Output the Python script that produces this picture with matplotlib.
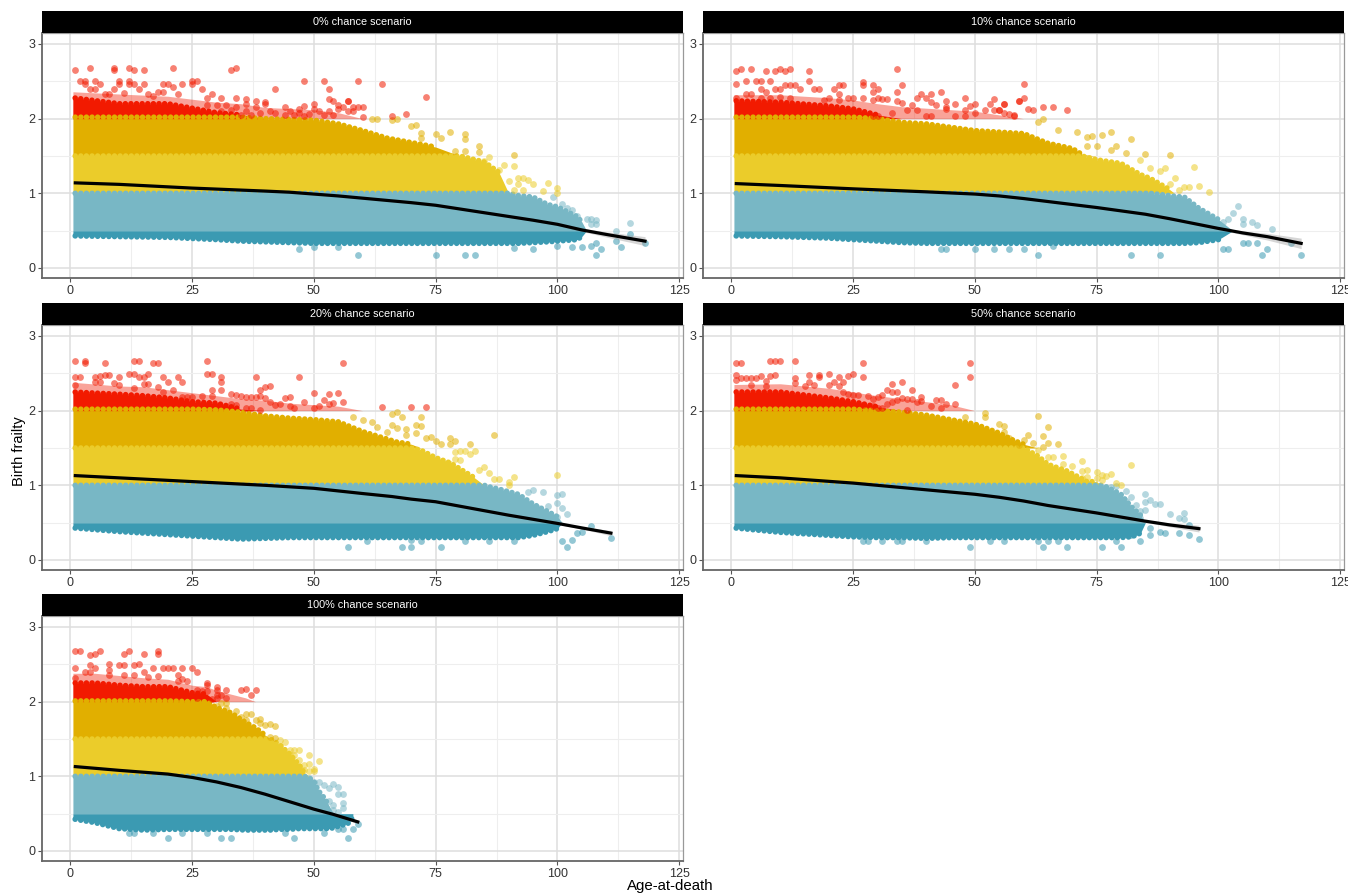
import numpy as np
import matplotlib
matplotlib.use("Agg")
import matplotlib.pyplot as plt
from matplotlib.patches import Rectangle

plt.rcParams["font.family"] = ["Liberation Sans", "DejaVu Sans"]

#COLOURS (frailty bands, low to high)
DARK = "#3B9AB2"
LIGHT = "#78B7C5"
YELLOW = "#EBCC2A"
GOLD = "#E1AF00"
RED = "#F21A00"

titles = ["0% chance scenario", "10% chance scenario", "20% chance scenario",
          "50% chance scenario", "100% chance scenario"]
x_ticks = [0, 25, 50, 75, 100, 125]
y_ticks = [0, 1, 2, 3]

#0% SCENARIO
ages_0 = [0.5, 10, 20, 30, 35, 40, 50, 55, 60, 65, 70, 75, 80, 85, 88, 90, 92, 95, 98, 100, 104, 105, 106]
red_soft_0 = [2.36, 2.33, 2.3, 2.22, 2.2, 2.15, 2.12, 2.08] + [2.0] * 15
red_top_0 = [2.28, 2.2, 2.2, 2.08, 2.05, 2.0, 2, 2, 2, 2, 2, 2, 2, 2, 2, 2, 2, 2, 2, 2, 2, 2, 2]
gold_top_0 = [2.02, 2.02, 2.02, 2.02, 2.02, 2.0, 1.98, 1.93, 1.84, 1.74, 1.68, 1.62, 1.5, 1.5, 1.5, 1.5, 1.5, 1.5, 1.5, 1.5, 1.5, 1.5, 1.5]
yellow_top_0 = [1.5, 1.5, 1.5, 1.5, 1.5, 1.5, 1.5, 1.5, 1.5, 1.5, 1.5, 1.5, 1.5, 1.42, 1.28, 1.0, 1, 1, 1, 1, 1, 1, 1]
light_top_0 = [1.0, 1, 1, 1, 1, 1, 1, 1, 1, 1, 1, 1, 1, 1, 1, 1.0, 0.97, 0.95, 0.85, 0.82, 0.69, 0.62, 0.5]
dark_low_0 = [0.43, 0.42, 0.41, 0.38, 0.36, 0.35, 0.33, 0.33, 0.33, 0.33, 0.33, 0.33, 0.33, 0.33, 0.33, 0.33, 0.33, 0.34, 0.35, 0.36, 0.38, 0.42, 0.5]
red_0 = [(1, 2.65), (4, 2.68), (9, 2.68), (9, 2.65), (12, 2.68), (13, 2.65), (15, 2.65), (21, 2.68), (33, 2.65), (34, 2.68),
         (2, 2.51), (3, 2.51), (5, 2.51), (6, 2.46), (3, 2.46), (4, 2.4), (5, 2.4), (9, 2.4), (10, 2.51), (10, 2.46),
         (12, 2.51), (12, 2.46), (13, 2.46), (14, 2.4), (15, 2.46), (19, 2.46), (20, 2.46), (21, 2.42), (23, 2.46), (25, 2.51),
         (25, 2.46), (26, 2.5), (27, 2.4), (42, 2.4), (48, 2.5), (52, 2.5), (53, 2.4), (16, 2.33), (18, 2.36), (19, 2.36),
         (22, 2.33), (29, 2.33), (28, 2.27), (31, 2.28), (34, 2.27), (36, 2.26), (38, 2.24), (40, 2.22), (44, 2.16), (47, 2.13),
         (48, 2.17), (50, 2.2), (53, 2.26), (54, 2.23), (55, 2.18), (57, 2.24), (28, 2.18), (30, 2.18), (31, 2.1), (32, 2.18),
         (33, 2.12), (34, 2.15), (35, 2.05), (36, 2.2), (36, 2.1), (37, 2.05), (38, 2.15), (39, 2.08), (40, 2.2), (41, 2.1),
         (42, 2.08), (44, 2.05), (45, 2.1), (46, 2.05), (47, 2.08), (48, 2.03), (49, 2.06), (50, 2.13), (51, 2.1), (52, 2.05),
         (53, 2.1), (54, 2.05), (55, 2.13), (56, 2.15), (57, 2.1), (59, 2.51), (64, 2.46), (73, 2.29), (57, 2.24), (60, 2.15),
         (59, 2.15), (58, 2.15), (66, 2.04), (69, 2.06), (60, 2.02), (58, 2.1), (7, 2.33), (8, 2.33), (11, 2.35), (17, 2.3)]
gold_0 = [(62, 1.99), (63, 1.99), (67, 1.99), (66, 1.98), (70, 1.9), (71, 1.91), (72, 1.81), (72, 1.74), (75, 1.79), (78, 1.82),
          (76, 1.74), (81, 1.79), (81, 1.73), (84, 1.63), (84, 1.56), (81, 1.57), (79, 1.57), (91, 1.51)]
yellow_0 = [(86, 1.49), (85, 1.43), (89, 1.38), (91, 1.37), (88, 1.31), (93, 1.2), (94, 1.18), (98, 1.14), (95, 1.13), (90, 1.16),
            (100, 1.07), (100, 1.01), (97, 1.03), (92, 1.13), (91, 1.05), (93, 1.04), (92, 1.2)]
light_0 = [(99, 0.95), (101, 0.86), (102, 0.8), (103, 0.77), (104, 0.69), (106, 0.66), (107, 0.65), (108, 0.64), (107, 0.59), (108, 0.59),
           (115, 0.6), (112, 0.5)]
dark_0 = [(115, 0.46), (112, 0.36), (113, 0.28), (109, 0.25), (108, 0.17), (108, 0.33), (105, 0.28), (107, 0.3), (118, 0.33), (103, 0.28),
          (100, 0.3), (95, 0.25), (91, 0.27), (83, 0.18), (81, 0.18), (75, 0.18), (59, 0.18), (47, 0.26), (50, 0.28), (55, 0.28)]
smooth_x_0 = [1, 10, 25, 40, 45, 50, 55, 60, 65, 70, 75, 80, 85, 90, 95, 100, 105, 110, 118]
smooth_y_0 = [1.14, 1.12, 1.07, 1.03, 1.015, 0.99, 0.965, 0.935, 0.905, 0.875, 0.84, 0.79, 0.74, 0.69, 0.64, 0.585, 0.51, 0.45, 0.36]
band_0 = [0.01] * 15 + [0.012, 0.02, 0.035, 0.06]

#10% SCENARIO
ages_1 = [0.5, 10, 20, 25, 30, 35, 40, 50, 60, 65, 70, 72, 75, 80, 84, 86, 90, 91, 93, 96, 100, 103]
red_soft_1 = [2.32, 2.32, 2.28, 2.25, 2.2, 2.16, 2.14, 2.1] + [2.0] * 14
red_top_1 = [2.24, 2.22, 2.17, 2.13, 2.05, 2, 2, 2, 2, 2, 2, 2, 2, 2, 2, 2, 2, 2, 2, 2, 2, 2]
gold_top_1 = [2.02, 2.02, 2.02, 2.02, 2.0, 1.95, 1.93, 1.84, 1.8, 1.67, 1.6, 1.52, 1.5, 1.5, 1.5, 1.5, 1.5, 1.5, 1.5, 1.5, 1.5, 1.5]
yellow_top_1 = [1.5, 1.5, 1.5, 1.5, 1.5, 1.5, 1.5, 1.5, 1.5, 1.5, 1.5, 1.5, 1.45, 1.4, 1.25, 1.2, 1.05, 1, 1, 1, 1, 1]
light_top_1 = [1, 1, 1, 1, 1, 1, 1, 1, 1, 1, 1, 1, 1, 1, 1, 1.0, 0.97, 0.96, 0.95, 0.8, 0.65, 0.5]
dark_low_1 = [0.43, 0.42, 0.4, 0.38, 0.36, 0.34, 0.33, 0.33, 0.33, 0.33, 0.33, 0.33, 0.33, 0.33, 0.33, 0.33, 0.33, 0.33, 0.33, 0.34, 0.38, 0.5]
red_1 = [(1, 2.64), (2, 2.67), (4, 2.67), (7, 2.64), (9, 2.64), (10, 2.67), (11, 2.64), (12, 2.67), (16, 2.64), (34, 2.67),
         (1, 2.47), (3, 2.5), (5, 2.5), (6, 2.5), (8, 2.5), (6, 2.4), (7, 2.36), (9, 2.4), (10, 2.4), (11, 2.45),
         (12, 2.45), (13, 2.45), (14, 2.4), (16, 2.5), (17, 2.4), (18, 2.4), (21, 2.4), (22, 2.45), (23, 2.45), (22, 2.33),
         (27, 2.49), (27, 2.45), (29, 2.45), (30, 2.4), (29, 2.36), (35, 2.45), (34, 2.36), (39, 2.33), (41, 2.33), (43, 2.36),
         (48, 2.27), (54, 2.26), (53, 2.2), (56, 2.19), (59, 2.23), (60, 2.46), (60, 2.27), (59, 2.24), (64, 2.15), (66, 2.16),
         (69, 2.12), (61, 2.13), (62, 2.12), (58, 2.05), (56, 2.2), (55, 2.12), (1, 2.27), (3, 2.33), (4, 2.33), (6, 2.27),
         (8, 2.27), (10, 2.29), (12, 2.27), (19, 2.25), (20, 2.27), (22, 2.25), (24, 2.27), (25, 2.27), (27, 2.27), (29, 2.25),
         (30, 2.27), (31, 2.26), (32, 2.26), (34, 2.23), (35, 2.21), (36, 2.12), (37, 2.18), (38, 2.27), (40, 2.27), (41, 2.22),
         (42, 2.18), (44, 2.23), (44, 2.15), (46, 2.19), (48, 2.11), (49, 2.17), (50, 2.2), (52, 2.12), (54, 2.11), (55, 2.11),
         (56, 2.07), (57, 2.06), (58, 2.04), (29, 2.04), (30, 2.04), (33, 2.07), (38, 2.11), (40, 2.04), (41, 2.04), (44, 2.13),
         (46, 2.04), (48, 2.04), (50, 2.07)]
gold_1 = [(64, 2.0), (63, 1.95), (67, 1.85), (71, 1.82), (73, 1.75), (74, 1.77), (76, 1.78), (78, 1.82), (82, 1.73), (73, 1.63),
          (75, 1.63), (79, 1.64), (78, 1.58), (81, 1.54), (85, 1.52), (90, 1.51)]
yellow_1 = [(84, 1.45), (86, 1.34), (89, 1.34), (88, 1.3), (95, 1.35), (91, 1.2), (96, 1.1), (93, 1.09), (94, 1.09), (98, 1.02),
            (90, 1.13), (92, 1.04)]
light_1 = [(104, 0.83), (103, 0.73), (102, 0.66), (105, 0.66), (107, 0.62), (108, 0.57), (105, 0.59), (111, 0.52), (101, 0.62)]
dark_1 = [(110, 0.26), (109, 0.17), (117, 0.17), (108, 0.33), (106, 0.34), (105, 0.33), (102, 0.26), (101, 0.26), (88, 0.17), (82, 0.17),
          (63, 0.17), (115, 0.33), (57, 0.26), (60, 0.26), (66, 0.3), (43, 0.25), (44, 0.26), (50, 0.25), (54, 0.26)]
smooth_x_1 = [1, 10, 25, 40, 50, 55, 60, 65, 70, 75, 80, 85, 90, 95, 100, 105, 110, 117]
smooth_y_1 = [1.13, 1.105, 1.06, 1.02, 0.99, 0.965, 0.93, 0.89, 0.85, 0.81, 0.765, 0.72, 0.66, 0.595, 0.53, 0.47, 0.42, 0.33]
band_1 = [0.01] * 14 + [0.015, 0.025, 0.045, 0.07]

#20% SCENARIO
ages_2 = [0.5, 10, 15, 20, 25, 30, 35, 40, 45, 50, 55, 60, 65, 67, 70, 72, 75, 78, 80, 83, 85, 86, 88, 92, 95, 98, 100, 101]
red_soft_2 = [2.38, 2.33, 2.32, 2.28, 2.24, 2.2, 2.16, 2.14, 2.1, 2.08, 2.06] + [2.0] * 17
red_top_2 = [2.25, 2.22, 2.2, 2.17, 2.12, 2.1, 2.02, 2, 2, 2, 2, 2, 2, 2, 2, 2, 2, 2, 2, 2, 2, 2, 2, 2, 2, 2, 2, 2]
gold_top_2 = [2.02, 2.02, 2.02, 2.02, 2.02, 2.01, 1.98, 1.93, 1.9, 1.88, 1.85, 1.72, 1.62, 1.58, 1.55, 1.5, 1.5, 1.5, 1.5, 1.5, 1.5, 1.5, 1.5, 1.5, 1.5, 1.5, 1.5, 1.5]
yellow_top_2 = [1.5, 1.5, 1.5, 1.5, 1.5, 1.5, 1.5, 1.5, 1.5, 1.5, 1.5, 1.5, 1.5, 1.5, 1.5, 1.47, 1.37, 1.3, 1.22, 1.1, 1.0, 1, 1, 1, 1, 1, 1, 1]
light_top_2 = [1, 1, 1, 1, 1, 1, 1, 1, 1, 1, 1, 1, 1, 1, 1, 1, 1, 1, 1, 1, 1, 0.98, 0.95, 0.88, 0.75, 0.65, 0.58, 0.5]
dark_low_2 = [0.43, 0.38, 0.36, 0.34, 0.32, 0.3, 0.28, 0.29, 0.3, 0.3, 0.3, 0.3, 0.3, 0.3, 0.3, 0.3, 0.3, 0.3, 0.3, 0.3, 0.3, 0.3, 0.3, 0.3, 0.33, 0.38, 0.42, 0.5]
red_2 = [(1, 2.67), (3, 2.67), (3, 2.64), (7, 2.64), (13, 2.67), (14, 2.67), (17, 2.64), (18, 2.64), (28, 2.67), (56, 2.64),
         (1, 2.45), (2, 2.45), (5, 2.45), (6, 2.46), (7, 2.48), (8, 2.48), (10, 2.45), (12, 2.49), (13, 2.49), (14, 2.45),
         (15, 2.45), (16, 2.49), (19, 2.45), (20, 2.39), (22, 2.45), (23, 2.39), (28, 2.49), (29, 2.49), (31, 2.45), (31, 2.39),
         (38, 2.45), (47, 2.45), (1, 2.35), (5, 2.39), (6, 2.39), (9, 2.37), (10, 2.35), (13, 2.3), (15, 2.36), (16, 2.36),
         (18, 2.32), (21, 2.28), (29, 2.28), (31, 2.28), (39, 2.28), (40, 2.32), (41, 2.33), (50, 2.23), (53, 2.22), (55, 2.23),
         (19, 2.25), (23, 2.18), (24, 2.18), (25, 2.18), (27, 2.19), (29, 2.19), (33, 2.22), (34, 2.21), (35, 2.19), (36, 2.18),
         (37, 2.18), (38, 2.18), (39, 2.19), (40, 2.17), (41, 2.11), (42, 2.08), (43, 2.09), (44, 2.17), (45, 2.18), (48, 2.11),
         (46, 2.04), (45, 2.06), (50, 2.04), (51, 2.06), (52, 2.14), (53, 2.09), (54, 2.1), (56, 2.11), (33, 2.09), (34, 2.07),
         (36, 2.04), (37, 2.04), (39, 2.01), (64, 2.05), (70, 2.05), (73, 2.05)]
gold_2 = [(66, 1.96), (67, 1.98), (68, 1.92), (72, 1.91), (66, 1.81), (71, 1.81), (72, 1.79), (67, 1.77), (69, 1.75), (69, 1.68),
          (71, 1.7), (73, 1.64), (74, 1.65), (75, 1.6), (78, 1.64), (79, 1.59), (78, 1.55), (82, 1.56), (87, 1.68), (76, 1.55),
          (62, 1.85), (60, 1.87), (58, 1.92), (63, 1.78), (65, 1.72)]
yellow_2 = [(79, 1.44), (80, 1.46), (81, 1.46), (83, 1.46), (82, 1.42), (79, 1.35), (80, 1.34), (78, 1.28), (77, 1.29), (85, 1.25),
            (86, 1.17), (84, 1.21), (87, 1.09), (88, 1.09), (91, 1.11), (90, 1.05), (100, 1.14), (90, 1.0)]
light_2 = [(95, 0.94), (94, 0.91), (97, 0.91), (100, 0.87), (101, 0.88), (100, 0.76), (96, 0.7), (98, 0.72), (101, 0.7), (102, 0.61),
           (100, 0.58)]
dark_2 = [(111, 0.3), (107, 0.46), (105, 0.38), (104, 0.36), (103, 0.27), (102, 0.17), (101, 0.25), (91, 0.25), (86, 0.25), (81, 0.25),
          (76, 0.17), (70, 0.17), (70, 0.27), (68, 0.17), (72, 0.25), (57, 0.17), (61, 0.25)]
smooth_x_2 = [1, 10, 25, 40, 50, 55, 60, 66, 70, 75, 80, 85, 90, 95, 100, 105, 111]
smooth_y_2 = [1.13, 1.1, 1.05, 1.0, 0.96, 0.925, 0.89, 0.85, 0.815, 0.78, 0.72, 0.66, 0.6, 0.545, 0.49, 0.43, 0.36]
band_2 = [0.01] * 14 + [0.012, 0.015, 0.035]

#50% SCENARIO
ages_3 = [0.5, 10, 20, 25, 30, 35, 40, 45, 50, 55, 58, 60, 63, 65, 69, 71, 73, 75, 76, 77, 80, 82, 83, 84, 85]
red_soft_3 = [2.35, 2.36, 2.3, 2.25, 2.2, 2.16, 2.12, 2.08] + [2.0] * 17
red_top_3 = [2.25, 2.25, 2.17, 2.12, 2.05, 2, 2, 2, 2, 2, 2, 2, 2, 2, 2, 2, 2, 2, 2, 2, 2, 2, 2, 2, 2]
gold_top_3 = [2.02, 2.02, 2.02, 2.02, 2.0, 1.98, 1.94, 1.88, 1.82, 1.7, 1.6, 1.55, 1.5, 1.5, 1.5, 1.5, 1.5, 1.5, 1.5, 1.5, 1.5, 1.5, 1.5, 1.5, 1.5]
yellow_top_3 = [1.5, 1.5, 1.5, 1.5, 1.5, 1.5, 1.5, 1.5, 1.5, 1.5, 1.5, 1.5, 1.39, 1.28, 1.19, 1.12, 1.05, 1.05, 1.0, 1, 1, 1, 1, 1, 1]
light_top_3 = [1, 1, 1, 1, 1, 1, 1, 1, 1, 1, 1, 1, 1, 1, 1, 1, 1, 1, 1, 0.98, 0.88, 0.72, 0.66, 0.6, 0.5]
dark_low_3 = [0.43, 0.37, 0.33, 0.31, 0.3, 0.3, 0.29, 0.3, 0.3, 0.3, 0.3, 0.3, 0.3, 0.3, 0.3, 0.3, 0.3, 0.3, 0.3, 0.3, 0.3, 0.31, 0.33, 0.36, 0.5]
red_3 = [(1, 2.64), (2, 2.64), (8, 2.67), (9, 2.67), (10, 2.67), (13, 2.67), (27, 2.64), (49, 2.64), (49, 2.45), (27, 2.45),
         (1, 2.48), (1, 2.41), (2, 2.44), (3, 2.44), (4, 2.44), (5, 2.44), (6, 2.47), (7, 2.4), (8, 2.47), (9, 2.48),
         (4, 2.35), (7, 2.33), (13, 2.44), (13, 2.37), (16, 2.48), (16, 2.39), (18, 2.48), (18, 2.45), (20, 2.49), (21, 2.39),
         (22, 2.45), (23, 2.39), (24, 2.46), (25, 2.49), (22, 2.33), (20, 2.35), (15, 2.33), (17, 2.35), (33, 2.36), (35, 2.39),
         (37, 2.28), (34, 2.25), (33, 2.25), (32, 2.28), (31, 2.21), (46, 2.35), (39, 2.18), (39, 2.13), (36, 2.16), (37, 2.16),
         (35, 2.17), (34, 2.14), (33, 2.11), (32, 2.09), (42, 2.14), (43, 2.14), (44, 2.09), (43, 2.04), (46, 2.09), (41, 2.06),
         (38, 2.11), (36, 2.01), (28, 2.19), (29, 2.16), (30, 2.18), (26, 2.21), (24, 2.22), (25, 2.21), (23, 2.25), (29, 2.06),
         (30, 2.04), (31, 2.04), (27, 2.08)]
gold_3 = [(52, 1.97), (52, 1.91), (48, 1.91), (63, 1.93), (65, 1.78), (64, 1.66), (61, 1.67), (65, 1.57), (67, 1.56), (62, 1.57),
          (60, 1.61), (55, 1.82), (56, 1.79), (56, 1.71), (57, 1.63), (59, 1.54), (64, 1.51)]
yellow_3 = [(63, 1.47), (65, 1.38), (66, 1.38), (68, 1.39), (72, 1.32), (68, 1.28), (70, 1.26), (82, 1.27), (73, 1.21), (72, 1.19),
            (75, 1.18), (76, 1.14), (77, 1.12), (78, 1.15), (72, 1.1), (73, 1.11), (75, 1.1), (76, 1.07), (79, 1.03), (80, 1.0)]
light_3 = [(79, 0.99), (78, 0.98), (76, 0.97), (77, 0.94), (81, 0.92), (82, 0.85), (81, 0.79), (85, 0.88), (86, 0.81), (85, 0.77),
           (87, 0.75), (88, 0.75), (83, 0.74), (84, 0.66), (85, 0.67), (82, 0.65), (90, 0.61), (93, 0.63), (92, 0.56), (93, 0.55),
           (84, 0.56)]
dark_3 = [(94, 0.47), (96, 0.28), (94, 0.34), (92, 0.36), (89, 0.36), (88, 0.38), (86, 0.43), (86, 0.33), (84, 0.25), (81, 0.36),
          (82, 0.34), (80, 0.17), (76, 0.17), (79, 0.25), (69, 0.17), (64, 0.17), (65, 0.25), (49, 0.17), (63, 0.25), (67, 0.25),
          (56, 0.25), (53, 0.25), (27, 0.25), (28, 0.25), (31, 0.25), (34, 0.25), (35, 0.25), (40, 0.25)]
smooth_x_3 = [1, 10, 25, 35, 45, 50, 55, 60, 65, 70, 75, 80, 85, 90, 96]
smooth_y_3 = [1.13, 1.1, 1.03, 0.97, 0.91, 0.88, 0.84, 0.79, 0.73, 0.68, 0.63, 0.575, 0.52, 0.47, 0.42]
band_3 = [0.01] * 12 + [0.015, 0.025, 0.045]

#100% SCENARIO
ages_4 = [0.5, 5, 10, 15, 20, 25, 28, 30, 33, 36, 38, 40, 41, 43, 45, 47, 48, 49, 50, 51, 52, 53, 54, 55, 57, 58]
red_soft_4 = [2.38, 2.38, 2.35, 2.32, 2.3, 2.22, 2.2, 2.15, 2.1, 2.05] + [2.0] * 16
red_top_4 = [2.25, 2.25, 2.22, 2.2, 2.2, 2.12, 2.1, 2, 2, 2, 2, 2, 2, 2, 2, 2, 2, 2, 2, 2, 2, 2, 2, 2, 2, 2]
gold_top_4 = [2.01, 2.01, 2.01, 2.01, 2.01, 2.0, 2.0, 1.92, 1.85, 1.72, 1.65, 1.55, 1.5, 1.5, 1.5, 1.5, 1.5, 1.5, 1.5, 1.5, 1.5, 1.5, 1.5, 1.5, 1.5, 1.5]
yellow_top_4 = [1.5, 1.5, 1.5, 1.5, 1.5, 1.5, 1.5, 1.5, 1.5, 1.5, 1.5, 1.5, 1.5, 1.42, 1.3, 1.15, 1.05, 1.0, 1, 1, 1, 1, 1, 1, 1, 1]
light_top_4 = [1, 1, 1, 1, 1, 1, 1, 1, 1, 1, 1, 1, 1, 1, 1, 1, 1.0, 0.98, 0.93, 0.8, 0.72, 0.62, 0.5, 0.5, 0.5, 0.5]
dark_low_4 = [0.43, 0.38, 0.3, 0.28, 0.29, 0.29, 0.29, 0.29, 0.29, 0.28, 0.28, 0.28, 0.28, 0.29, 0.29, 0.3, 0.3, 0.3, 0.3, 0.3, 0.3, 0.3, 0.31, 0.33, 0.37, 0.45]
red_4 = [(1, 2.68), (2, 2.68), (4, 2.63), (5, 2.64), (6, 2.68), (11, 2.64), (12, 2.68), (15, 2.64), (18, 2.68), (18, 2.64),
         (1, 2.45), (4, 2.49), (5, 2.45), (3, 2.4), (4, 2.4), (8, 2.51), (10, 2.49), (11, 2.49), (13, 2.49), (14, 2.5),
         (8, 2.43), (15, 2.4), (17, 2.45), (19, 2.45), (20, 2.45), (21, 2.45), (22, 2.36), (23, 2.45), (25, 2.45), (26, 2.4),
         (18, 2.34), (16, 2.33), (13, 2.36), (11, 2.36), (8, 2.36), (1, 2.32), (22, 2.27), (23, 2.3), (24, 2.27), (28, 2.25),
         (35, 2.16), (36, 2.17), (38, 2.15), (37, 2.09), (32, 2.15), (30, 2.19), (30, 2.15), (30, 2.09), (31, 2.09), (32, 2.05),
         (28, 2.14), (26, 2.16), (27, 2.14), (25, 2.09), (26, 2.05), (28, 2.22), (30, 2.05), (29, 2.03)]
gold_4 = [(30, 1.94), (31, 1.98), (32, 1.98), (32, 1.92), (36, 1.83), (37, 1.84), (36, 1.76), (39, 1.77), (39, 1.72), (40, 1.69),
          (42, 1.67), (41, 1.7), (38, 1.76), (41, 1.53), (42, 1.51), (34, 1.88), (35, 1.8)]
yellow_4 = [(43, 1.49), (44, 1.46), (43, 1.4), (45, 1.35), (46, 1.35), (47, 1.35), (45, 1.29), (46, 1.28), (49, 1.28), (47, 1.22),
            (48, 1.15), (49, 1.16), (51, 1.2), (50, 1.1), (47, 1.13), (48, 1.09), (49, 1.07), (50, 1.07)]
light_4 = [(49, 0.98), (50, 0.92), (51, 0.92), (52, 0.88), (54, 0.9), (55, 0.86), (53, 0.84), (55, 0.76), (56, 0.76), (53, 0.67),
           (56, 0.64), (54, 0.62), (56, 0.57), (54, 0.55), (55, 0.52)]
dark_4 = [(59, 0.36), (58, 0.3), (57, 0.17), (46, 0.17), (33, 0.17), (31, 0.17), (20, 0.17), (17, 0.24), (23, 0.24), (28, 0.24),
          (44, 0.24), (52, 0.24), (55, 0.3), (56, 0.3), (12, 0.24), (13, 0.24)]
smooth_x_4 = [1, 10, 15, 20, 25, 30, 35, 40, 45, 50, 54, 59]
smooth_y_4 = [1.13, 1.08, 1.055, 1.03, 0.985, 0.925, 0.85, 0.76, 0.66, 0.56, 0.49, 0.39]
band_4 = [0.01] * 9 + [0.012, 0.015, 0.025]

#PANEL POSITIONS IN PIXELS (left, top)
W, H = 1348, 894
panel_left = [42, 703, 42, 703, 42]
panel_top = [33, 33, 325, 325, 616]
panel_w, panel_h, strip_h = 641, 245, 22

panels = [
    (ages_0, red_soft_0, red_top_0, gold_top_0, yellow_top_0, light_top_0, dark_low_0, red_0, gold_0, yellow_0, light_0, dark_0, smooth_x_0, smooth_y_0, band_0),
    (ages_1, red_soft_1, red_top_1, gold_top_1, yellow_top_1, light_top_1, dark_low_1, red_1, gold_1, yellow_1, light_1, dark_1, smooth_x_1, smooth_y_1, band_1),
    (ages_2, red_soft_2, red_top_2, gold_top_2, yellow_top_2, light_top_2, dark_low_2, red_2, gold_2, yellow_2, light_2, dark_2, smooth_x_2, smooth_y_2, band_2),
    (ages_3, red_soft_3, red_top_3, gold_top_3, yellow_top_3, light_top_3, dark_low_3, red_3, gold_3, yellow_3, light_3, dark_3, smooth_x_3, smooth_y_3, band_3),
    (ages_4, red_soft_4, red_top_4, gold_top_4, yellow_top_4, light_top_4, dark_low_4, red_4, gold_4, yellow_4, light_4, dark_4, smooth_x_4, smooth_y_4, band_4),
]


def dotted_edge(ax, x, edge, base, col):
    # rounded dashes along a band edge, so it reads as overlapping dots
    edge = np.array(edge, dtype=float)
    ax.plot(x, np.where(np.abs(edge - base) > 0.001, edge, np.nan), color=col, lw=4,
            ls=(0.6, (0.01, 1.0)), dash_capstyle="round", zorder=2.5)


fig = plt.figure(figsize=(W / 100, H / 100), dpi=100)

for i, p in enumerate(panels):
    ages, red_soft, red_top, gold_top, yellow_top, light_top, dark_low, red, gold, yellow, light, dark, sx, sy, sb = p
    left, top = panel_left[i], panel_top[i]
    ax = fig.add_axes([left / W, 1 - (top + panel_h) / H, panel_w / W, panel_h / H])
    ax.set_xlim(-5.85, 125.8)
    ax.set_ylim(-0.134, 3.147)

    #GRID
    ax.set_xticks(x_ticks)
    ax.set_yticks(y_ticks)
    ax.set_xticks([12.5, 37.5, 62.5, 87.5, 112.5], minor=True)
    ax.set_yticks([0.5, 1.5, 2.5], minor=True)
    ax.grid(True, which="major", color="#dedede", lw=1.1)
    ax.grid(True, which="minor", color="#eeeeee", lw=0.8)
    ax.set_axisbelow(True)
    ax.tick_params(which="minor", length=0)
    ax.tick_params(which="major", labelsize=9, length=3, width=0.8, color="#555555", labelcolor="#333333", pad=2)

    #DENSE CLOUD
    ages = np.array(ages)
    ax.fill_between(ages, 2.0, red_soft, color=RED, alpha=0.4, lw=0, zorder=2)
    ax.fill_between(ages, dark_low, 0.5, color=DARK, lw=0, zorder=2)
    ax.fill_between(ages, 0.5, light_top, color=LIGHT, lw=0, zorder=2)
    ax.fill_between(ages, 1.0, yellow_top, color=YELLOW, lw=0, zorder=2)
    ax.fill_between(ages, 1.5, gold_top, color=GOLD, lw=0, zorder=2)
    ax.fill_between(ages, 2.0, red_top, color=RED, lw=0, zorder=2)

    dotted_edge(ax, ages, dark_low, 0.5, DARK)
    dotted_edge(ax, ages, red_top, 2.0, RED)
    dotted_edge(ax, ages, gold_top, 1.5, GOLD)
    dotted_edge(ax, ages, yellow_top, 1.0, YELLOW)
    dotted_edge(ax, ages, light_top, 0.5, LIGHT)

    #SPARSE POINTS
    for pts, col in [(dark, DARK), (light, LIGHT), (yellow, YELLOW), (gold, GOLD), (red, RED)]:
        xs, ys = zip(*pts)
        ax.scatter(xs, ys, s=24, color=col, alpha=0.55, linewidths=0, zorder=3)

    #SMOOTH LINE
    sx, sy, sb = np.array(sx), np.array(sy), np.array(sb)
    ax.fill_between(sx, sy - sb, sy + sb, color="#999999", alpha=0.4, lw=0, zorder=4)
    ax.plot(sx, sy, color="black", lw=2.3, zorder=5)

    for side in ["top", "right"]:
        ax.spines[side].set_color("#999999")
        ax.spines[side].set_linewidth(0.9)
    for side in ["left", "bottom"]:
        ax.spines[side].set_color("#666666")
        ax.spines[side].set_linewidth(1.3)

    #STRIP
    fig.add_artist(Rectangle((left / W, 1 - top / H), panel_w / W, strip_h / H,
                             transform=fig.transFigure, facecolor="black", edgecolor="none"))
    fig.text((left + panel_w / 2) / W, 1 - (top - strip_h / 2) / H, titles[i], color="white",
             fontsize=7.8, ha="center", va="center")

fig.text(670 / W, 1 - 886 / H, "Age-at-death", fontsize=10.8, ha="center", va="center", color="black")
fig.text(19 / W, 1 - 451 / H, "Birth frailty", fontsize=10.5, rotation=90, ha="center", va="center", color="black")

fig.savefig("out.png", dpi=100)
